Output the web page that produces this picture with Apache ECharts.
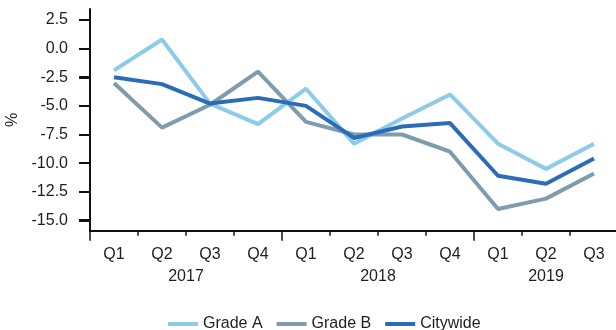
<!DOCTYPE html>
<html>
<head>
<meta charset="utf-8">
<script src="https://cdn.jsdelivr.net/npm/echarts@6/dist/echarts.min.js"></script>
<style>
  html, body { margin: 0; padding: 0; background: #ffffff; }
  #chart { width: 616px; height: 330px; }
</style>
</head>
<body>
<div id="chart"></div>
<script>
// Quarterly change, %
const quarters = ['Q1', 'Q2', 'Q3', 'Q4', 'Q1', 'Q2', 'Q3', 'Q4', 'Q1', 'Q2', 'Q3'];
const years = ['2017', '2018', '2019'];
const quartersPerYear = [4, 4, 3];

const gradeA = [-1.9, 0.8, -4.8, -6.6, -3.5, -8.3, -6.1, -4.0, -8.3, -10.5, -8.3];
const gradeB = [-3.0, -6.9, -4.9, -2.0, -6.4, -7.5, -7.5, -9.0, -14.0, -13.1, -10.9];
const citywide = [-2.5, -3.1, -4.8, -4.3, -5.0, -7.8, -6.8, -6.5, -11.1, -11.8, -9.6];

const yTicks = [-15, -12.5, -10, -7.5, -5, -2.5, 0, 2.5];

// Full value range of the plotting area
const yMin = -15.9;
const yMax = 3.46;

// Year group boundaries and label centres along the quarter axis
const yearStarts = [];
const yearMids = [];
let acc = 0;
quartersPerYear.forEach(n => { yearStarts.push(acc); yearMids.push(acc + n / 2); acc += n; });

const font = 'Arial, "Liberation Sans", Helvetica, sans-serif';
const fs = 16;
const axisColor = '#111111';
const textColor = '#1e1e1e';

const plotLeft = 90, plotTop = 9, plotWidth = 528, plotHeight = 221.7;
const tickLen = 11;

const chart = echarts.init(document.getElementById('chart'), null, { renderer: 'canvas' });

const seriesDefs = [
  { name: 'Grade A', data: gradeA, color: '#8ccbe9' },
  { name: 'Grade B', data: gradeB, color: '#7f9cad' },
  { name: 'Citywide', data: citywide, color: '#2b6cb9' }
];

chart.setOption({
  animation: false,
  backgroundColor: '#ffffff',
  textStyle: { fontFamily: font },
  grid: {
    left: plotLeft, top: plotTop, width: plotWidth, height: plotHeight,
    containLabel: false, outerBoundsMode: 'none'
  },
  legend: {
    left: 163,
    top: 311,
    itemWidth: 30,
    itemHeight: 4,
    itemGap: 14,
    icon: 'rect',
    textStyle: { fontSize: fs, color: textColor, fontFamily: font },
    data: seriesDefs.map(s => s.name)
  },
  xAxis: [
    {
      type: 'category',
      data: quarters,
      boundaryGap: true,
      axisLine: { show: true, onZero: false, lineStyle: { color: axisColor, width: 2 } },
      axisTick: { show: true, length: 5, lineStyle: { color: axisColor, width: 1.5 } },
      axisLabel: { fontSize: fs, color: textColor, margin: 16, interval: 0, fontFamily: font },
      splitLine: { show: false }
    },
    {
      type: 'value',
      position: 'bottom',
      min: 0,
      max: quarters.length,
      axisLine: { show: false, onZero: false },
      axisTick: {
        show: true,
        length: 10,
        customValues: yearStarts,
        lineStyle: { color: axisColor, width: 1.5 }
      },
      axisLabel: {
        show: true,
        fontSize: fs,
        color: textColor,
        margin: 38,
        fontFamily: font,
        customValues: yearMids,
        formatter: v => years[yearMids.indexOf(v)]
      },
      splitLine: { show: false }
    }
  ],
  yAxis: {
    type: 'value',
    position: 'left',
    min: yMin,
    max: yMax,
    name: '%',
    nameLocation: 'middle',
    nameGap: 60,
    nameRotate: 90,
    nameTextStyle: { fontSize: fs, color: textColor, fontFamily: font },
    axisLine: { show: true, onZero: false, lineStyle: { color: axisColor, width: 2 } },
    axisTick: {
      show: true,
      inside: false,
      length: tickLen,
      customValues: yTicks,
      lineStyle: { color: axisColor, width: 2 }
    },
    axisLabel: {
      show: true,
      fontSize: fs,
      color: textColor,
      margin: 22,
      fontFamily: font,
      customValues: yTicks,
      formatter: v => v.toFixed(1)
    },
    splitLine: { show: false }
  },
  series: seriesDefs.map(s => ({
    name: s.name,
    type: 'line',
    data: s.data,
    showSymbol: false,
    symbol: 'none',
    color: s.color,
    lineStyle: { color: s.color, width: 4 },
    itemStyle: { color: s.color }
  }))
});

// Outward y ticks, placed through the value axis scale
const pxPerUnit = plotHeight / (yMax - yMin);
const tickGraphics = yTicks.map(v => {
  let y = chart.convertToPixel({ yAxisIndex: 0 }, v);
  if (!isFinite(y)) { y = plotTop + (yMax - v) * pxPerUnit; }
  y = Math.round(y);
  return {
    type: 'rect',
    silent: true,
    z: 100,
    zlevel: 1,
    shape: { x: plotLeft - tickLen, y: y - 1, width: tickLen, height: 2 },
    style: { fill: axisColor }
  };
});
chart.setOption({ graphic: tickGraphics });
</script>
</body>
</html>
